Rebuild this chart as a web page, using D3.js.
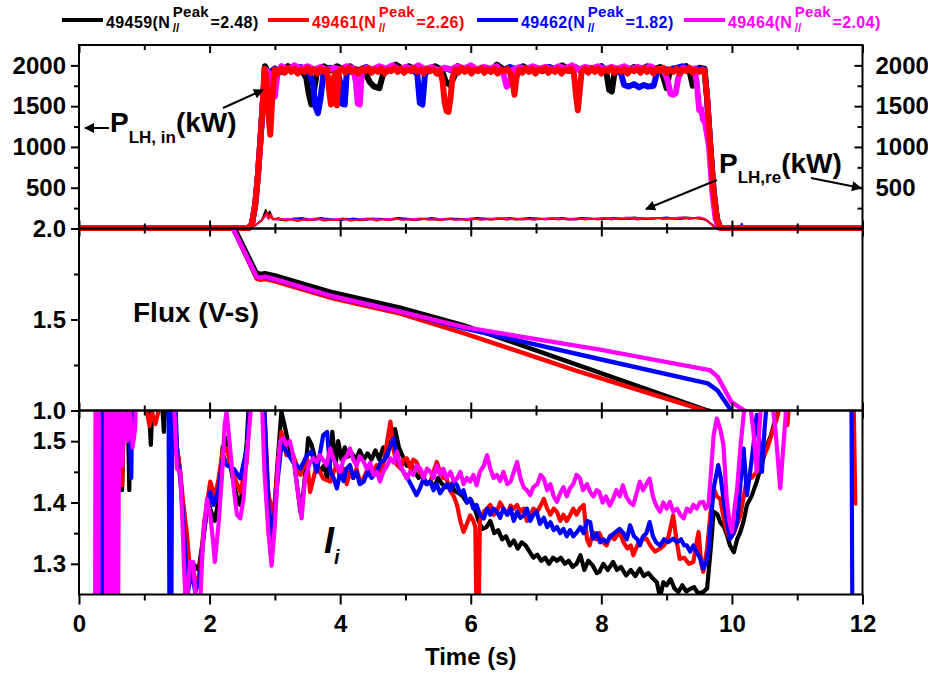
<!DOCTYPE html>
<html>
<head>
<meta charset="utf-8">
<script src="https://cdn.jsdelivr.net/npm/d3@7"></script>
<style>
  body { margin: 0; background: #fff; }
  svg { display: block; }
</style>
</head>
<body>
<div id="chart"></div>
<script>
// Shots and legend values
const shots = ["49459", "49461", "49462", "49464"];
const nPeak = ["2.48", "2.26", "1.82", "2.04"];
const colors = ["#000000", "#ff0000", "#0000ff", "#ff00ff"];

// Tick values
const xMajor = [0, 2, 4, 6, 8, 10, 12];
const xMinor = [1, 3, 5, 7, 9, 11];
const pMajor = [500, 1000, 1500, 2000];
const pMinor = [250, 750, 1250, 1750];
const fluxMajor = [1.0, 1.5, 2.0];
const fluxMinor = [1.25, 1.75];
const liMajor = [1.3, 1.4, 1.5];
const liMinor = [1.35, 1.45];

// P_LH,in (kW) per shot, [time, value]
const pin49459 = [[0,0],[2.5,0],[2.59,0],[2.65,60],[2.7,300],[2.74,650],[2.78,1100],[2.82,1600],[2.85,1990],[2.9,1900],[3.0,1960],[3.1,1920],[3.2,1990],[3.3,1930],[3.4,1960],[3.48,1850],[3.52,1650],[3.56,1520],[3.6,1700],[3.65,1940],[3.75,1990],[3.85,1940],[3.95,1990],[4.05,1950],[4.15,1990],[4.25,1930],[4.35,1960],[4.45,1800],[4.52,1740],[4.6,1720],[4.66,1900],[4.75,1950],[4.85,2010],[4.95,1960],[5.05,1990],[5.15,1950],[5.25,1970],[5.35,1930],[5.45,1990],[5.55,1950],[5.62,1800],[5.68,1760],[5.74,1850],[5.8,1990],[5.9,1950],[6.0,1980],[6.1,1940],[6.2,1960],[6.3,1930],[6.4,2010],[6.5,1950],[6.6,1970],[6.7,1930],[6.8,1990],[6.9,1950],[7.0,1970],[7.1,1930],[7.2,1980],[7.3,1940],[7.4,2000],[7.5,1950],[7.6,1980],[7.7,1930],[7.8,1970],[7.9,1940],[8.0,1990],[8.08,1900],[8.12,1700],[8.16,1680],[8.2,1900],[8.3,1960],[8.4,1930],[8.5,1980],[8.6,1940],[8.7,1990],[8.8,1950],[8.9,1980],[8.97,1800],[9.0,1720],[9.04,1900],[9.1,1960],[9.2,1930],[9.3,1990],[9.36,1900],[9.4,1750],[9.44,1920],[9.5,1970],[9.58,1960],[9.62,1600],[9.67,1000],[9.72,450],[9.77,120],[9.82,10],[9.85,0],[12,0]];
const pin49461 = [[0,0],[2.5,0],[2.59,0],[2.65,60],[2.7,300],[2.74,650],[2.78,1100],[2.82,1600],[2.84,1960],[2.87,1850],[2.9,1400],[2.93,1150],[2.96,1600],[3.0,1950],[3.05,1900],[3.1,1960],[3.15,1910],[3.2,1970],[3.25,1920],[3.3,1960],[3.35,1900],[3.4,1950],[3.45,1920],[3.5,1970],[3.55,1910],[3.6,1950],[3.65,1900],[3.7,1960],[3.75,1920],[3.8,1950],[3.83,1700],[3.86,1520],[3.89,1800],[3.92,1900],[3.95,1510],[3.98,1930],[4.03,1960],[4.08,1910],[4.13,1970],[4.18,1920],[4.23,1950],[4.28,1900],[4.33,1960],[4.38,1930],[4.43,1970],[4.48,1910],[4.53,1950],[4.58,1920],[4.63,1960],[4.68,1900],[4.73,1950],[4.78,1930],[4.83,1970],[4.88,1920],[4.93,1960],[4.98,1910],[5.03,1950],[5.08,1930],[5.13,1970],[5.18,1920],[5.23,1950],[5.28,1900],[5.33,1960],[5.38,1930],[5.43,1950],[5.48,1900],[5.53,1940],[5.57,1800],[5.6,1550],[5.63,1440],[5.66,1430],[5.69,1600],[5.72,1850],[5.76,1950],[5.81,1910],[5.86,1970],[5.91,1920],[5.96,1960],[6.01,1900],[6.06,1950],[6.11,1930],[6.16,1970],[6.21,1910],[6.26,1950],[6.31,1920],[6.36,1960],[6.41,1900],[6.46,1950],[6.51,1930],[6.56,1960],[6.61,1900],[6.64,1800],[6.67,1640],[6.7,1850],[6.74,1950],[6.79,1910],[6.84,1970],[6.89,1920],[6.94,1960],[6.99,1900],[7.04,1950],[7.09,1930],[7.14,1970],[7.19,1910],[7.24,1950],[7.29,1920],[7.34,1960],[7.39,1900],[7.44,1950],[7.49,1930],[7.54,1960],[7.58,1900],[7.61,1650],[7.64,1450],[7.67,1700],[7.7,1930],[7.75,1960],[7.8,1910],[7.85,1970],[7.9,1920],[7.95,1960],[8.0,1900],[8.05,1950],[8.1,1930],[8.15,1970],[8.2,1910],[8.25,1950],[8.3,1920],[8.35,1960],[8.4,1900],[8.45,1950],[8.5,1930],[8.55,1960],[8.6,1910],[8.65,1970],[8.7,1920],[8.75,1950],[8.8,1900],[8.85,1960],[8.9,1930],[8.95,1970],[9.0,1910],[9.05,1950],[9.1,1920],[9.15,1960],[9.2,1900],[9.25,1950],[9.3,1930],[9.35,1970],[9.4,1910],[9.45,1950],[9.5,1920],[9.55,1950],[9.58,1940],[9.62,1600],[9.67,1000],[9.72,450],[9.77,120],[9.82,10],[9.85,0],[12,0]];
const pin49462 = [[0,0],[2.5,0],[2.59,0],[2.65,60],[2.7,300],[2.74,650],[2.78,1100],[2.82,1600],[2.85,1950],[2.9,1880],[3.0,1960],[3.1,1920],[3.2,1970],[3.3,1940],[3.4,1980],[3.5,1930],[3.58,1800],[3.62,1500],[3.66,1415],[3.7,1600],[3.75,1940],[3.85,1970],[3.95,1930],[4.0,1800],[4.03,1530],[4.07,1520],[4.1,1900],[4.2,1960],[4.3,1940],[4.4,1980],[4.5,1930],[4.6,1970],[4.7,1940],[4.8,1990],[4.9,1950],[5.0,1970],[5.1,1940],[5.18,1900],[5.22,1540],[5.26,1520],[5.3,1900],[5.4,1960],[5.5,1930],[5.6,1970],[5.7,1940],[5.8,1980],[5.9,1950],[6.0,1990],[6.1,1940],[6.2,1970],[6.3,1930],[6.4,1960],[6.5,1940],[6.6,1980],[6.7,1950],[6.8,1970],[6.9,1930],[7.0,1960],[7.1,1940],[7.2,1980],[7.3,1950],[7.4,1970],[7.5,1930],[7.6,1960],[7.7,1940],[7.8,1970],[7.9,1950],[8.0,1980],[8.1,1940],[8.2,1960],[8.3,1900],[8.35,1760],[8.42,1740],[8.5,1770],[8.58,1730],[8.65,1760],[8.72,1740],[8.8,1750],[8.85,1900],[8.95,1960],[9.05,1940],[9.15,1970],[9.25,1990],[9.35,1950],[9.45,1960],[9.58,1950],[9.62,1600],[9.67,1000],[9.72,450],[9.77,120],[9.82,10],[9.85,0],[12,0]];
const pin49464 = [[0,0],[2.5,0],[2.59,0],[2.65,60],[2.7,300],[2.74,650],[2.78,1100],[2.82,1600],[2.85,1950],[2.92,1900],[2.96,1650],[3.0,1620],[3.04,1900],[3.1,1990],[3.2,1950],[3.3,2000],[3.4,1960],[3.5,1990],[3.6,1950],[3.7,1980],[3.8,1940],[3.9,1970],[4.0,1950],[4.1,1990],[4.2,1960],[4.24,1800],[4.27,1530],[4.3,1520],[4.33,1900],[4.4,1970],[4.5,1950],[4.6,1990],[4.7,1960],[4.8,2000],[4.9,1950],[5.0,1980],[5.1,1960],[5.2,2000],[5.3,1950],[5.4,1980],[5.5,1940],[5.6,1970],[5.7,1950],[5.8,1990],[5.9,1960],[6.0,2000],[6.1,1950],[6.2,1980],[6.3,1960],[6.4,1990],[6.5,1900],[6.55,1740],[6.6,1780],[6.65,1950],[6.75,1980],[6.85,1950],[6.95,1990],[7.05,1960],[7.15,1980],[7.25,1950],[7.35,1990],[7.45,1960],[7.55,2000],[7.65,1950],[7.75,1980],[7.85,1960],[7.95,1990],[8.05,1950],[8.15,1980],[8.25,1960],[8.35,1990],[8.45,1950],[8.55,1980],[8.65,1960],[8.75,1990],[8.85,1950],[8.95,1960],[9.02,1800],[9.06,1650],[9.1,1640],[9.14,1660],[9.18,1850],[9.25,1970],[9.35,1950],[9.42,1960],[9.46,1800],[9.5,1450],[9.53,1470],[9.56,1330],[9.59,1300],[9.65,1000],[9.7,450],[9.75,120],[9.8,10],[9.85,0],[12,0]];

// P_LH,re (kW) per shot
const pre49459 = [[0,0],[2.6,0],[2.7,40],[2.8,100],[2.86,230],[2.89,140],[2.92,210],[2.96,120],[3.1,105],[3.3,125],[3.5,100],[3.7,130],[3.9,105],[4.1,120],[4.3,100],[4.5,125],[4.7,110],[4.9,130],[5.1,105],[5.3,120],[5.5,105],[5.7,125],[5.9,110],[6.1,130],[6.3,110],[6.5,125],[6.7,110],[6.9,130],[7.1,115],[7.3,125],[7.5,110],[7.7,130],[7.9,115],[8.1,125],[8.3,115],[8.5,135],[8.7,115],[8.9,130],[9.1,120],[9.3,135],[9.5,120],[9.6,105],[9.66,70],[9.72,30],[9.78,0],[12,0]];
const pre49461 = [[0,0],[2.6,0],[2.7,40],[2.8,100],[2.85,160],[2.88,200],[2.91,120],[2.94,180],[2.97,110],[3.05,130],[3.15,95],[3.25,110],[3.35,90],[3.45,115],[3.55,100],[3.65,120],[3.75,95],[3.85,110],[3.95,100],[4.05,125],[4.15,95],[4.25,110],[4.35,100],[4.45,120],[4.55,95],[4.65,115],[4.75,100],[4.85,120],[4.95,105],[5.05,115],[5.15,100],[5.25,125],[5.35,105],[5.45,115],[5.55,100],[5.65,120],[5.75,105],[5.85,115],[5.95,100],[6.05,125],[6.15,105],[6.25,115],[6.35,110],[6.45,125],[6.55,105],[6.65,120],[6.75,110],[6.85,125],[6.95,105],[7.05,120],[7.15,110],[7.25,125],[7.35,110],[7.45,120],[7.55,105],[7.65,125],[7.75,110],[7.85,120],[7.95,110],[8.05,130],[8.15,110],[8.25,125],[8.35,115],[8.45,130],[8.55,110],[8.65,125],[8.75,115],[8.85,130],[8.95,115],[9.05,125],[9.15,115],[9.25,135],[9.35,115],[9.45,130],[9.55,120],[9.6,110],[9.66,70],[9.72,30],[9.78,0],[12,0]];
const pre49462 = [[0,0],[2.6,0],[2.7,40],[2.8,100],[2.87,190],[2.9,130],[2.93,170],[2.97,115],[3.2,110],[3.4,130],[3.6,105],[3.8,120],[4.0,100],[4.2,125],[4.4,105],[4.6,120],[4.8,110],[5.0,125],[5.2,105],[5.4,130],[5.6,110],[5.8,120],[6.0,110],[6.2,125],[6.4,115],[6.6,130],[6.8,110],[7.0,125],[7.2,115],[7.4,130],[7.6,110],[7.8,125],[8.0,115],[8.2,130],[8.4,115],[8.6,125],[8.8,120],[9.0,135],[9.2,115],[9.4,130],[9.55,120],[9.62,100],[9.68,60],[9.74,20],[9.8,0],[10.12,0],[10.15,60],[10.18,0],[12,0]];
const pre49464 = [[0,0],[2.6,0],[2.7,40],[2.8,100],[2.87,170],[2.9,120],[2.95,150],[3.0,110],[3.2,120],[3.4,100],[3.6,125],[3.8,105],[4.0,120],[4.2,100],[4.4,125],[4.6,110],[4.8,120],[5.0,105],[5.2,125],[5.4,110],[5.6,120],[5.8,105],[6.0,125],[6.2,110],[6.4,130],[6.6,115],[6.8,125],[7.0,110],[7.2,130],[7.4,115],[7.6,125],[7.8,115],[8.0,130],[8.2,115],[8.4,135],[8.6,120],[8.8,130],[9.0,120],[9.2,135],[9.4,125],[9.5,140],[9.58,120],[9.64,80],[9.7,35],[9.76,0],[12,0]];

// Flux (V-s) per shot
const flux49459 = [[2.0,2.3],[2.36,2.02],[2.72,1.757],[2.78,1.75],[2.85,1.755],[3.0,1.742],[3.9,1.648],[4.92,1.565],[5.9,1.468],[7.6,1.255],[9.63,1.0],[9.9,0.97]];
const flux49461 = [[2.0,2.28],[2.36,2.0],[2.72,1.725],[2.78,1.718],[2.85,1.722],[3.0,1.71],[3.9,1.615],[4.92,1.532],[5.9,1.424],[7.6,1.22],[9.58,1.0],[9.9,0.96]];
const flux49462 = [[2.0,2.28],[2.36,2.0],[2.72,1.735],[2.78,1.728],[2.85,1.732],[3.0,1.72],[3.9,1.625],[4.92,1.543],[5.9,1.452],[8.0,1.28],[9.63,1.149],[9.78,1.11],[9.99,1.0],[10.1,0.95]];
const flux49464 = [[2.0,2.28],[2.36,2.0],[2.72,1.736],[2.78,1.728],[2.85,1.735],[3.0,1.722],[3.9,1.626],[4.92,1.543],[5.9,1.458],[8.0,1.333],[9.66,1.222],[9.78,1.186],[9.99,1.048],[10.19,1.0],[10.3,0.98]];

// Internal inductance l_i per shot
const li49459 = [[0.62,1.6],[0.66,1.42],[0.7,1.6],[0.74,1.6],[0.77,1.42],[0.8,1.6],[0.9,1.65],[1.05,1.6],[1.1,1.494],[1.14,1.6],[1.25,1.6],[1.3,1.515],[1.34,1.6],[1.44,1.6],[1.5,1.49],[1.55,1.45],[1.6,1.37],[1.65,1.32],[1.7,1.29],[1.75,1.3],[1.83,1.29],[1.9,1.34],[1.98,1.4],[2.04,1.38],[2.08,1.37],[2.13,1.4],[2.2,1.49],[2.26,1.505],[2.32,1.46],[2.37,1.43],[2.44,1.4],[2.47,1.396],[2.52,1.44],[2.57,1.5],[2.62,1.6],[2.82,1.6],[2.88,1.43],[2.93,1.39],[2.98,1.363],[3.03,1.45],[3.1,1.548],[3.15,1.525],[3.22,1.49],[3.3,1.46],[3.35,1.42],[3.39,1.385],[3.44,1.42],[3.51,1.505],[3.56,1.495],[3.62,1.47],[3.69,1.45],[3.75,1.46],[3.8,1.44],[3.85,1.47],[3.88,1.515],[3.93,1.46],[3.97,1.5],[4.02,1.47],[4.07,1.49],[4.12,1.475],[4.18,1.48],[4.24,1.47],[4.3,1.485],[4.36,1.47],[4.42,1.48],[4.48,1.47],[4.54,1.485],[4.6,1.47],[4.66,1.49],[4.72,1.475],[4.78,1.5],[4.84,1.52],[4.9,1.49],[4.96,1.475],[5.02,1.46],[5.08,1.465],[5.14,1.45],[5.2,1.44],[5.26,1.445],[5.32,1.43],[5.38,1.435],[5.44,1.425],[5.5,1.44],[5.56,1.43],[5.63,1.425],[5.7,1.43],[5.76,1.418],[5.82,1.415],[5.88,1.41],[5.94,1.4],[6.0,1.405],[6.06,1.39],[6.12,1.37],[6.18,1.357],[6.24,1.36],[6.3,1.37],[6.36,1.35],[6.42,1.355],[6.48,1.34],[6.54,1.345],[6.6,1.33],[6.66,1.338],[6.72,1.325],[6.78,1.335],[6.84,1.33],[6.9,1.32],[6.96,1.31],[7.02,1.315],[7.08,1.305],[7.14,1.31],[7.2,1.3],[7.26,1.31],[7.32,1.305],[7.38,1.31],[7.44,1.3],[7.5,1.305],[7.56,1.295],[7.62,1.3],[7.68,1.314],[7.74,1.29],[7.8,1.305],[7.87,1.297],[7.93,1.285],[7.97,1.287],[8.03,1.3],[8.1,1.29],[8.18,1.303],[8.24,1.29],[8.3,1.295],[8.38,1.281],[8.45,1.29],[8.52,1.28],[8.59,1.292],[8.65,1.28],[8.72,1.285],[8.79,1.276],[8.85,1.27],[8.9,1.245],[8.95,1.27],[9.0,1.265],[9.06,1.275],[9.12,1.26],[9.18,1.254],[9.24,1.265],[9.3,1.255],[9.36,1.259],[9.42,1.262],[9.48,1.252],[9.56,1.254],[9.62,1.26],[9.68,1.33],[9.72,1.385],[9.78,1.38],[9.82,1.368],[9.88,1.36],[9.93,1.345],[9.97,1.33],[10.03,1.319],[10.08,1.34],[10.13,1.352],[10.18,1.37],[10.23,1.396],[10.3,1.41],[10.38,1.434],[10.45,1.46],[10.54,1.494],[10.6,1.51],[10.64,1.526],[10.7,1.545],[10.76,1.6],[11.9,1.6]];
const li49461 = [[0.6,1.6],[0.66,1.428],[0.7,1.6],[1.0,1.6],[1.04,1.548],[1.08,1.525],[1.12,1.545],[1.17,1.528],[1.22,1.55],[1.26,1.6],[1.4,1.6],[1.48,1.505],[1.54,1.46],[1.6,1.396],[1.65,1.352],[1.7,1.29],[1.75,1.275],[1.8,1.27],[1.85,1.287],[1.92,1.37],[2.01,1.434],[2.08,1.41],[2.13,1.434],[2.2,1.483],[2.26,1.488],[2.37,1.444],[2.47,1.417],[2.57,1.466],[2.64,1.6],[2.82,1.6],[2.9,1.412],[2.98,1.379],[3.05,1.466],[3.1,1.515],[3.18,1.477],[3.28,1.477],[3.39,1.445],[3.49,1.472],[3.54,1.417],[3.64,1.461],[3.74,1.439],[3.85,1.434],[3.9,1.45],[3.95,1.461],[4.0,1.44],[4.05,1.455],[4.1,1.43],[4.15,1.45],[4.2,1.44],[4.25,1.455],[4.3,1.435],[4.36,1.439],[4.42,1.455],[4.48,1.445],[4.56,1.461],[4.62,1.45],[4.68,1.47],[4.72,1.5],[4.77,1.532],[4.81,1.49],[4.87,1.461],[4.93,1.455],[4.97,1.47],[5.02,1.472],[5.08,1.455],[5.12,1.47],[5.17,1.466],[5.22,1.45],[5.28,1.44],[5.33,1.43],[5.38,1.434],[5.43,1.45],[5.48,1.466],[5.53,1.45],[5.58,1.44],[5.63,1.439],[5.68,1.42],[5.74,1.41],[5.79,1.396],[5.84,1.37],[5.89,1.352],[5.94,1.365],[5.99,1.379],[6.04,1.37],[6.07,1.36],[6.09,1.2],[6.12,1.2],[6.14,1.37],[6.2,1.385],[6.25,1.39],[6.3,1.396],[6.35,1.38],[6.4,1.385],[6.45,1.4],[6.5,1.39],[6.56,1.38],[6.61,1.395],[6.66,1.39],[6.71,1.396],[6.76,1.385],[6.81,1.39],[6.86,1.37],[6.91,1.379],[6.96,1.39],[7.02,1.385],[7.07,1.395],[7.12,1.406],[7.17,1.39],[7.22,1.38],[7.27,1.39],[7.32,1.385],[7.37,1.37],[7.42,1.38],[7.47,1.37],[7.52,1.379],[7.57,1.39],[7.62,1.38],[7.67,1.39],[7.73,1.396],[7.78,1.34],[7.82,1.33],[7.87,1.352],[7.92,1.34],[7.97,1.35],[8.03,1.335],[8.08,1.33],[8.13,1.345],[8.2,1.34],[8.28,1.352],[8.34,1.335],[8.4,1.325],[8.45,1.33],[8.49,1.314],[8.55,1.33],[8.62,1.34],[8.69,1.341],[8.75,1.33],[8.82,1.32],[8.9,1.325],[8.96,1.33],[9.03,1.345],[9.1,1.379],[9.15,1.34],[9.2,1.308],[9.27,1.31],[9.34,1.3],[9.41,1.303],[9.45,1.33],[9.49,1.352],[9.53,1.3],[9.56,1.287],[9.62,1.325],[9.67,1.38],[9.72,1.423],[9.77,1.41],[9.82,1.406],[9.88,1.37],[9.93,1.35],[9.97,1.341],[10.03,1.35],[10.08,1.365],[10.13,1.379],[10.18,1.41],[10.23,1.439],[10.3,1.44],[10.38,1.45],[10.46,1.47],[10.54,1.488],[10.62,1.515],[10.69,1.537],[10.74,1.56],[10.79,1.58],[10.85,1.526],[10.9,1.6],[11.86,1.6],[11.89,1.395]];
const li49462 = [[0.335,1.1],[0.35,1.7],[0.365,1.1],[0.38,1.7],[0.76,1.6],[0.78,1.51],[0.8,1.44],[0.82,1.6],[1.37,1.6],[1.39,1.1],[1.41,1.1],[1.43,1.6],[1.47,1.6],[1.5,1.48],[1.55,1.44],[1.58,1.396],[1.64,1.303],[1.67,1.254],[1.72,1.29],[1.78,1.254],[1.85,1.276],[1.93,1.368],[2.01,1.417],[2.06,1.396],[2.13,1.417],[2.21,1.477],[2.26,1.461],[2.37,1.455],[2.47,1.439],[2.57,1.488],[2.64,1.6],[2.82,1.6],[2.9,1.396],[2.95,1.33],[3.03,1.423],[3.1,1.494],[3.18,1.483],[3.28,1.466],[3.39,1.455],[3.49,1.477],[3.56,1.483],[3.64,1.45],[3.74,1.51],[3.8,1.515],[3.85,1.45],[3.9,1.44],[3.95,1.423],[4.0,1.45],[4.05,1.435],[4.1,1.455],[4.15,1.461],[4.2,1.44],[4.25,1.45],[4.3,1.43],[4.36,1.434],[4.42,1.45],[4.48,1.44],[4.56,1.45],[4.62,1.465],[4.68,1.47],[4.74,1.485],[4.82,1.504],[4.87,1.475],[4.92,1.46],[4.97,1.45],[5.03,1.44],[5.08,1.43],[5.13,1.42],[5.17,1.412],[5.23,1.425],[5.28,1.44],[5.33,1.43],[5.38,1.434],[5.43,1.42],[5.48,1.43],[5.53,1.415],[5.58,1.423],[5.64,1.43],[5.69,1.42],[5.74,1.435],[5.79,1.428],[5.84,1.415],[5.89,1.42],[5.94,1.4],[5.99,1.406],[6.04,1.39],[6.09,1.396],[6.14,1.38],[6.2,1.374],[6.25,1.39],[6.3,1.38],[6.35,1.39],[6.4,1.385],[6.45,1.375],[6.5,1.39],[6.56,1.38],[6.61,1.39],[6.66,1.37],[6.71,1.385],[6.76,1.375],[6.81,1.379],[6.86,1.39],[6.91,1.37],[6.96,1.38],[7.01,1.385],[7.06,1.365],[7.12,1.375],[7.17,1.36],[7.22,1.368],[7.27,1.355],[7.32,1.36],[7.37,1.35],[7.42,1.357],[7.47,1.345],[7.52,1.355],[7.57,1.345],[7.63,1.352],[7.68,1.36],[7.73,1.35],[7.78,1.37],[7.83,1.368],[7.87,1.341],[7.93,1.35],[7.98,1.335],[8.03,1.34],[8.08,1.335],[8.14,1.345],[8.2,1.35],[8.28,1.357],[8.34,1.35],[8.39,1.34],[8.44,1.363],[8.5,1.345],[8.55,1.34],[8.59,1.33],[8.64,1.345],[8.69,1.35],[8.74,1.368],[8.79,1.345],[8.84,1.335],[8.9,1.33],[8.96,1.34],[9.02,1.335],[9.1,1.341],[9.16,1.335],[9.22,1.34],[9.27,1.33],[9.31,1.33],[9.36,1.32],[9.41,1.33],[9.46,1.319],[9.51,1.31],[9.56,1.292],[9.6,1.3],[9.64,1.319],[9.68,1.37],[9.72,1.423],[9.79,1.461],[9.83,1.44],[9.87,1.406],[9.92,1.37],[9.97,1.341],[10.02,1.35],[10.08,1.368],[10.13,1.43],[10.18,1.488],[10.23,1.412],[10.28,1.45],[10.33,1.494],[10.38,1.543],[10.42,1.5],[10.46,1.45],[10.5,1.52],[10.54,1.57],[10.6,1.6],[11.83,1.6],[11.845,1.2]];
const li49464 = [[0.245,1.1],[0.255,1.7],[0.265,1.1],[0.275,1.7],[0.285,1.1],[0.295,1.7],[0.3,1.1],[0.305,1.7],[0.41,1.7],[0.415,1.1],[0.425,1.7],[0.44,1.1],[0.455,1.7],[0.47,1.1],[0.485,1.7],[0.5,1.1],[0.515,1.7],[0.53,1.1],[0.545,1.7],[0.565,1.2],[0.585,1.7],[0.6,1.22],[0.62,1.7],[0.64,1.6],[0.66,1.46],[0.7,1.56],[0.74,1.5],[0.78,1.55],[0.82,1.49],[0.86,1.52],[0.88,1.6],[1.44,1.6],[1.5,1.455],[1.55,1.45],[1.58,1.38],[1.61,1.29],[1.64,1.22],[1.7,1.303],[1.75,1.303],[1.8,1.22],[1.85,1.22],[1.9,1.341],[1.96,1.406],[2.01,1.38],[2.06,1.33],[2.08,1.303],[2.14,1.368],[2.2,1.46],[2.23,1.526],[2.26,1.548],[2.31,1.494],[2.37,1.423],[2.42,1.38],[2.47,1.374],[2.52,1.406],[2.57,1.477],[2.62,1.537],[2.67,1.6],[2.79,1.6],[2.84,1.45],[2.9,1.352],[2.95,1.297],[3.0,1.363],[3.05,1.461],[3.08,1.5],[3.13,1.505],[3.18,1.494],[3.23,1.5],[3.28,1.477],[3.33,1.434],[3.41,1.374],[3.46,1.439],[3.54,1.466],[3.59,1.472],[3.64,1.466],[3.69,1.477],[3.79,1.461],[3.85,1.488],[3.9,1.47],[3.95,1.46],[4.0,1.45],[4.05,1.47],[4.1,1.475],[4.15,1.488],[4.2,1.47],[4.25,1.46],[4.3,1.475],[4.36,1.466],[4.41,1.455],[4.46,1.465],[4.51,1.445],[4.56,1.45],[4.61,1.434],[4.66,1.45],[4.72,1.46],[4.77,1.472],[4.82,1.465],[4.87,1.483],[4.92,1.46],[4.97,1.45],[5.02,1.439],[5.07,1.45],[5.12,1.445],[5.17,1.46],[5.23,1.455],[5.28,1.44],[5.33,1.455],[5.38,1.45],[5.43,1.44],[5.48,1.46],[5.53,1.445],[5.58,1.455],[5.63,1.44],[5.69,1.45],[5.74,1.435],[5.79,1.439],[5.84,1.45],[5.89,1.43],[5.94,1.44],[5.99,1.434],[6.04,1.445],[6.09,1.428],[6.14,1.45],[6.2,1.46],[6.25,1.477],[6.3,1.455],[6.35,1.44],[6.4,1.445],[6.45,1.435],[6.5,1.45],[6.56,1.43],[6.61,1.434],[6.66,1.45],[6.71,1.466],[6.76,1.44],[6.81,1.425],[6.86,1.42],[6.91,1.412],[6.96,1.425],[7.02,1.43],[7.07,1.445],[7.12,1.439],[7.17,1.42],[7.22,1.43],[7.27,1.41],[7.32,1.401],[7.37,1.415],[7.42,1.425],[7.47,1.41],[7.52,1.423],[7.57,1.43],[7.62,1.445],[7.67,1.44],[7.72,1.42],[7.78,1.43],[7.83,1.417],[7.88,1.41],[7.93,1.42],[7.97,1.417],[8.02,1.4],[8.07,1.41],[8.13,1.395],[8.18,1.406],[8.23,1.42],[8.28,1.41],[8.33,1.428],[8.38,1.41],[8.44,1.4],[8.49,1.396],[8.54,1.415],[8.59,1.434],[8.64,1.42],[8.69,1.43],[8.74,1.439],[8.79,1.41],[8.84,1.395],[8.9,1.385],[8.95,1.4],[9.0,1.39],[9.05,1.401],[9.1,1.385],[9.16,1.39],[9.21,1.38],[9.26,1.374],[9.31,1.39],[9.36,1.385],[9.41,1.396],[9.46,1.39],[9.51,1.4],[9.56,1.401],[9.6,1.39],[9.64,1.396],[9.68,1.45],[9.72,1.51],[9.77,1.537],[9.82,1.52],[9.87,1.494],[9.92,1.406],[9.96,1.37],[10.0,1.352],[10.04,1.39],[10.08,1.423],[10.13,1.49],[10.18,1.543],[10.23,1.58],[10.28,1.56],[10.33,1.515],[10.38,1.45],[10.42,1.52],[10.46,1.58],[10.57,1.58],[10.62,1.56],[10.67,1.515],[10.74,1.423],[10.78,1.48],[10.82,1.537],[10.86,1.6],[10.95,1.6]];

const pinSeries = [pin49459, pin49461, pin49462, pin49464];
const preSeries = [pre49459, pre49461, pre49462, pre49464];
const fluxSeries = [flux49459, flux49461, flux49462, flux49464];
const liSeries = [li49459, li49461, li49462, li49464];

// Layout
const svgWidth = 928, svgHeight = 673;
const left = 79, right = 862.5;
const topP = [45, 228.5], midP = [228.5, 410.5], botP = [410.5, 594.5];
const FONT = "'Liberation Sans', Arial, Helvetica, sans-serif";

const svg = d3.select("#chart").append("svg")
  .attr("width", svgWidth)
  .attr("height", svgHeight)
  .attr("font-family", FONT);

svg.append("rect").attr("width", svgWidth).attr("height", svgHeight).attr("fill", "#fff");

const defs = svg.append("defs");
defs.append("marker")
  .attr("id", "arr")
  .attr("viewBox", "0 0 10 10")
  .attr("refX", 9).attr("refY", 5)
  .attr("markerUnits", "userSpaceOnUse")
  .attr("markerWidth", 12).attr("markerHeight", 10)
  .attr("orient", "auto")
  .append("path").attr("d", "M0,0 L10,5 L0,10 z").attr("fill", "#000");

function clip(id, y0, y1) {
  defs.append("clipPath").attr("id", id)
    .append("rect").attr("x", left).attr("y", y0).attr("width", right - left).attr("height", y1 - y0);
}
clip("cTop", topP[0], topP[1] + 2.5);
clip("cMid", midP[0], midP[1]);
clip("cBot", botP[0], botP[1]);

// Scales
const x = d3.scaleLinear().domain([0, 12]).range([left, right]);
const yP = d3.scaleLinear().domain([0, 2250]).range([topP[1], topP[0]]);
const yF = d3.scaleLinear().domain([1, 2]).range([midP[1], midP[0]]);
const yL = d3.scaleLinear().domain([1.25, 1.55]).range([botP[1], botP[0]]);

function drawLines(series, y, clipId, order, width) {
  const g = svg.append("g").attr("clip-path", `url(#${clipId})`);
  const line = d3.line().x(d => x(d[0])).y(d => y(d[1]));
  order.forEach(i => {
    g.append("path")
      .datum(series[i])
      .attr("fill", "none")
      .attr("stroke", colors[i])
      .attr("stroke-width", width)
      .attr("stroke-linejoin", "round")
      .attr("d", line);
  });
}

// Top panel: injected and reflected power
drawLines(preSeries, yP, "cTop", [0, 2, 3, 1], 1.8);
drawLines(pinSeries, yP, "cTop", [0, 2, 3, 1], 6);
// Middle: flux
drawLines(fluxSeries, yF, "cMid", [0, 1, 2, 3], 4.5);
// Bottom: l_i
drawLines(liSeries, yL, "cBot", [0, 1, 2, 3], 4.2);

// Frames
[topP, midP, botP].forEach(p => {
  svg.append("rect")
    .attr("x", left).attr("y", p[0])
    .attr("width", right - left).attr("height", p[1] - p[0])
    .attr("fill", "none").attr("stroke", "#000").attr("stroke-width", 2);
});

// Axes helper
function axis(gen, tx, ty, values, size, fmt, pad) {
  const g = svg.append("g").attr("transform", `translate(${tx},${ty})`);
  gen.tickValues(values).tickSize(size).tickFormat(fmt || "");
  if (pad !== undefined) gen.tickPadding(pad);
  g.call(gen);
  g.select(".domain").remove();
  g.selectAll("line").attr("stroke", "#000").attr("stroke-width", 2);
  g.selectAll("text")
    .attr("font-family", FONT)
    .attr("font-size", 24)
    .attr("font-weight", "bold")
    .attr("fill", "#000");
  return g;
}

// x ticks on panel edges
[topP[0], midP[0], botP[0]].forEach(yy => {
  axis(d3.axisTop(x), 0, yy, xMajor, -8);
  axis(d3.axisTop(x), 0, yy, xMinor, -5);
});
[topP[1], midP[1]].forEach(yy => {
  axis(d3.axisBottom(x), 0, yy, xMajor, -8);
  axis(d3.axisBottom(x), 0, yy, xMinor, -5);
});
axis(d3.axisBottom(x), 0, botP[1], xMajor, 10, d3.format("d"), 10.5);
axis(d3.axisBottom(x), 0, botP[1], xMinor, 6);

// y axes
axis(d3.axisLeft(yP), left, 0, pMajor, 8, d3.format("d"), 5);
axis(d3.axisLeft(yP), left, 0, pMinor, 5);
axis(d3.axisRight(yP), right, 0, pMajor, -8, d3.format("d"), 13);
axis(d3.axisRight(yP), right, 0, pMinor, -5);
axis(d3.axisLeft(yF), left, 0, fluxMajor, 8, d3.format(".1f"), 5);
axis(d3.axisLeft(yF), left, 0, fluxMinor, 5);
axis(d3.axisLeft(yL), left, 0, liMajor, 8, d3.format(".1f"), 5);
axis(d3.axisLeft(yL), left, 0, liMinor, 5);

// x axis title
svg.append("text")
  .attr("x", (left + right) / 2).attr("y", 665)
  .attr("text-anchor", "middle")
  .attr("font-size", 24).attr("font-weight", "bold")
  .text("Time (s)");

// Legend
const legendX = [62, 268, 477, 684];
shots.forEach((s, i) => {
  const lx = legendX[i];
  svg.append("line")
    .attr("x1", lx).attr("x2", lx + 41).attr("y1", 20).attr("y2", 20)
    .attr("stroke", colors[i]).attr("stroke-width", 4);
  const g = svg.append("g").attr("fill", colors[i]).attr("font-weight", "bold");
  const tx = lx + 44;
  const t1 = g.append("text").attr("x", tx).attr("y", 28).attr("font-size", 16)
    .attr("letter-spacing", 0.4).text(`${s}(N`);
  const w1 = t1.node().getComputedTextLength() + 2.5;
  g.append("text").attr("x", tx + w1).attr("y", 32).attr("font-size", 12).text("//");
  const sup = g.append("text").attr("x", tx + w1).attr("y", 17).attr("font-size", 15)
    .attr("letter-spacing", 0.3).text("Peak");
  const w2 = sup.node().getComputedTextLength() + 1.5;
  g.append("text").attr("x", tx + w1 + w2).attr("y", 28).attr("font-size", 16)
    .attr("letter-spacing", 0.4).text(`=${nPeak[i]})`);
});

// Annotations
const ann = svg.append("g").attr("font-weight", "bold").attr("fill", "#000");

const pin = ann.append("text").attr("x", 110).attr("y", 132);
pin.append("tspan").attr("font-size", 28).text("P");
pin.append("tspan").attr("font-size", 17).attr("dy", 11).text("LH, in");
pin.append("tspan").attr("font-size", 28).attr("dy", -11).text("(kW)");

const pre = ann.append("text").attr("x", 719).attr("y", 173);
pre.append("tspan").attr("font-size", 28).text("P");
pre.append("tspan").attr("font-size", 17).attr("dy", 10).text("LH,re");
pre.append("tspan").attr("font-size", 28).attr("dy", -10).text("(kW)");

ann.append("text").attr("x", 133).attr("y", 322).attr("font-size", 28).text("Flux (V-s)");

const li = ann.append("text").attr("x", 324).attr("y", 553).attr("font-style", "italic");
li.append("tspan").attr("font-size", 36).text("I");
li.append("tspan").attr("font-size", 20).attr("dy", 11).text("i");

function arrow(x1, y1, x2, y2) {
  svg.append("line")
    .attr("x1", x1).attr("y1", y1).attr("x2", x2).attr("y2", y2)
    .attr("stroke", "#000").attr("stroke-width", 2)
    .attr("marker-end", "url(#arr)");
}
arrow(109, 128, 85, 128);
arrow(223, 108, 263, 90);
arrow(717, 180, 646, 209);
arrow(811, 178, 861, 188);
</script>
</body>
</html>
